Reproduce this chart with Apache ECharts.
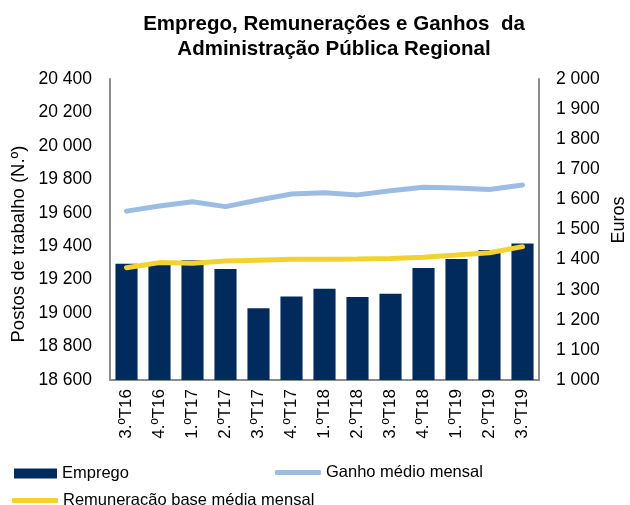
<!DOCTYPE html>
<html>
<head>
<meta charset="utf-8">
<script src="https://cdn.jsdelivr.net/npm/echarts@6/dist/echarts.min.js"></script>
<style>
  html, body { margin: 0; padding: 0; background: #fff; }
  #chart { width: 630px; height: 505px; }
</style>
</head>
<body>
<div id="chart"></div>
<script>
// Quarters
var categories = ['3.ºT16', '4.ºT16', '1.ºT17', '2.ºT17', '3.ºT17', '4.ºT17', '1.ºT18',
                  '2.ºT18', '3.ºT18', '4.ºT18', '1.ºT19', '2.ºT19', '3.ºT19'];
// Jobs (left axis)
var emprego = [19295, 19290, 19316, 19264, 19029, 19100, 19146, 19096, 19116, 19270, 19323, 19377, 19417];
// Average monthly earnings, euros (right axis)
var ganhoMedio = [1561, 1578, 1592, 1576, 1598, 1618, 1622, 1615, 1629, 1640, 1638, 1633, 1648];
// Average monthly base pay, euros (right axis)
var remuneracaoBase = [1373, 1390, 1388, 1395, 1398, 1401, 1401, 1402, 1404, 1408, 1415, 1423, 1443];

var FONT = 'Liberation Sans, Arial, sans-serif';
function thousands(v) {
  return String(v).replace(/\B(?=(\d{3})+(?!\d))/g, ' ');
}

var chart = echarts.init(document.getElementById('chart'));
chart.setOption({
  animation: false,
  backgroundColor: '#ffffff',
  textStyle: { fontFamily: FONT },
  title: {
    text: 'Emprego, Remunerações e Ganhos  da\nAdministração Pública Regional',
    left: 329,
    textAlign: 'center',
    top: 7,
    textStyle: { fontFamily: FONT, fontSize: 20.5, fontWeight: 'bold', color: '#000', lineHeight: 25 }
  },
  grid: { left: 110, right: 91, top: 79, bottom: 125, containLabel: false },
  legend: [
    {
      data: [{ name: 'Emprego', icon: 'rect' }],
      left: 9, top: 460, itemWidth: 43, itemHeight: 10,
      textStyle: { fontFamily: FONT, fontSize: 16.5, color: '#000' }
    },
    {
      data: [{ name: 'Ganho médio mensal', icon: 'roundRect' }],
      left: 270, top: 459, itemWidth: 46, itemHeight: 5,
      textStyle: { fontFamily: FONT, fontSize: 16.5, color: '#000' }
    },
    {
      data: [{ name: 'Remuneracão base média mensal', icon: 'roundRect' }],
      left: 7, top: 487, itemWidth: 46, itemHeight: 5,
      textStyle: { fontFamily: FONT, fontSize: 16.5, color: '#000' }
    }
  ],
  xAxis: {
    type: 'category',
    data: categories,
    axisLine: { lineStyle: { color: '#8c8c8c', width: 2 } },
    axisTick: { show: false },
    axisLabel: { rotate: 90, margin: 9, fontSize: 17, color: '#000', fontFamily: FONT }
  },
  yAxis: [
    {
      type: 'value', min: 18600, max: 20400, interval: 200,
      axisLine: { show: true, lineStyle: { color: '#8c8c8c', width: 2 } },
      axisTick: { show: false },
      splitLine: { show: false },
      axisLabel: { margin: 18, fontSize: 17.5, color: '#000', fontFamily: FONT, formatter: thousands }
    },
    {
      type: 'value', min: 1000, max: 2000, interval: 100,
      axisLine: { show: true, lineStyle: { color: '#8c8c8c', width: 2 } },
      axisTick: { show: false },
      splitLine: { show: false },
      axisLabel: { margin: 17, fontSize: 17.5, color: '#000', fontFamily: FONT, formatter: thousands }
    }
  ],
  graphic: [
    {
      type: 'text', x: 19, y: 244, rotation: Math.PI / 2,
      style: { text: 'Postos de trabalho (N.º)', fontFamily: FONT, fontSize: 18.5, fill: '#000',
               align: 'center', verticalAlign: 'middle' }
    },
    {
      type: 'text', x: 619, y: 220, rotation: Math.PI / 2,
      style: { text: 'Euros', fontFamily: FONT, fontSize: 18, fill: '#000',
               align: 'center', verticalAlign: 'middle' }
    }
  ],
  series: [
    {
      name: 'Emprego', type: 'bar', yAxisIndex: 0, data: emprego,
      barCategoryGap: '33%',
      itemStyle: { color: '#002B5C' }
    },
    {
      name: 'Ganho médio mensal', type: 'line', yAxisIndex: 1, data: ganhoMedio,
      symbol: 'none', lineStyle: { color: '#9DBCE3', width: 5, cap: 'round' },
      itemStyle: { color: '#9DBCE3' }
    },
    {
      name: 'Remuneracão base média mensal', type: 'line', yAxisIndex: 1, data: remuneracaoBase,
      symbol: 'none', lineStyle: { color: '#F2D22E', width: 5, cap: 'round' },
      itemStyle: { color: '#F2D22E' }
    }
  ]
});
</script>
</body>
</html>
